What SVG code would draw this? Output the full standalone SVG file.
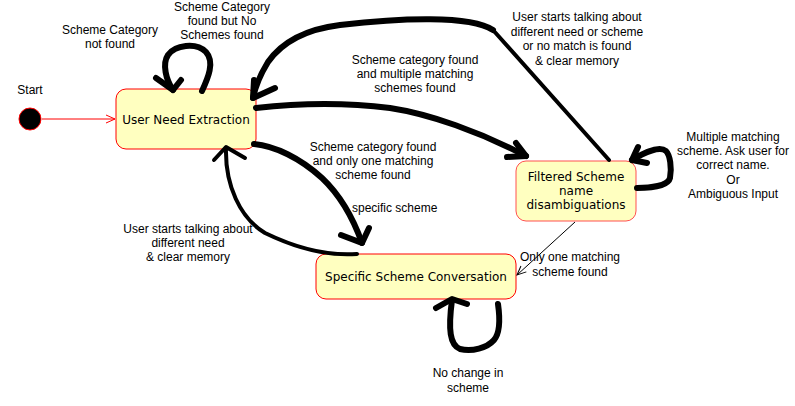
<svg xmlns="http://www.w3.org/2000/svg" width="795" height="406" viewBox="0 0 795 406">
<defs>
<marker id="open" markerWidth="12" markerHeight="12" refX="10" refY="5" orient="auto" markerUnits="userSpaceOnUse">
<path d="M1,1 L10,5 L1,9" fill="none" stroke="#ff0000" stroke-width="1"/>
</marker>
<marker id="openk" markerWidth="12" markerHeight="12" refX="10" refY="5" orient="auto" markerUnits="userSpaceOnUse">
<path d="M1,1 L10,5 L1,9" fill="none" stroke="#000" stroke-width="1"/>
</marker>
</defs>
<style>
.state{fill:#ffffc0;stroke:#ff0000;stroke-width:1}
.nt{font-family:"DejaVu Sans",Verdana,sans-serif;font-size:12px;fill:#000;text-anchor:middle}
.lb{font-family:"Liberation Sans",Arial,sans-serif;font-size:12px;fill:#000;text-anchor:middle}
.thick{fill:none;stroke:#000;stroke-width:6;stroke-linecap:round;stroke-linejoin:round}
.med{fill:none;stroke:#000;stroke-width:4;stroke-linecap:round;stroke-linejoin:round}
</style>
<rect width="795" height="406" fill="#fff"/>
<g id="start">
<circle cx="30" cy="119" r="11" fill="#000" stroke="#ff0000" stroke-width="1"/>
<text class="lb" x="30" y="94">Start</text>
</g>
<g id="user-need-extraction">
<rect class="state" x="116" y="89" width="140" height="60" rx="10"/>
<text class="nt" x="186" y="123.5">User Need Extraction</text>
</g>
<g id="filtered-scheme">
<rect class="state" x="516" y="161" width="120" height="60" rx="10" style="stroke:#ff5050"/>
<text class="nt" x="576" y="181">Filtered Scheme</text>
<text class="nt" x="576" y="195">name</text>
<text class="nt" x="576" y="209">disambiguations</text>
</g>
<g id="specific-scheme">
<rect class="state" x="316" y="254" width="200" height="45" rx="10"/>
<text class="nt" x="416" y="281">Specific Scheme Conversation</text>
</g>
<g id="connectors">
<line x1="42" y1="119" x2="115" y2="119" stroke="#ff0000" stroke-width="1" marker-end="url(#open)"/>
<!-- loop on user need -->
<path class="thick" d="M202,91 C208,78 215,62 206,52 C196,42 175,45 168,55 C162,64 166,80 173,90"/>
<path class="thick" d="M156,78 L173,90 L181,80"/>
<!-- back from filtered to user need -->
<path class="med" d="M609,160 L493,30"/>
<path class="thick" d="M493,30 C470,15 400,18 340,25 C300,30 280,45 268,62 C260,75 255,88 253,98"/>
<path class="thick" d="M254,80 L253,98 L275,88"/>
<!-- user need to filtered -->
<path class="thick" d="M256,108 C300,103 350,103 390,108 C430,114 480,132 526,156"/>
<path class="thick" d="M516,143 L526,156 L507,157"/>
<!-- filtered self loop -->
<path class="thick" d="M637,188 C650,188 668,186 670,178 C672,168 670,155 666,151 C660,146 645,152 632,160"/>
<path class="thick" d="M638,147 L632,160 L647,163"/>
<!-- filtered to specific -->
<line x1="575" y1="222" x2="517" y2="275" stroke="#000" stroke-width="1" marker-end="url(#openk)"/>
<!-- user need to specific -->
<path class="thick" d="M254,144 C275,146 300,158 322,178 C340,195 352,215 362,243"/>
<path class="thick" d="M341,235 L362,243 L369,228"/>
<!-- specific to user need -->
<path class="med" d="M357,254 C330,256 300,250 265,233 C240,218 225,185 226,148"/>
<path class="med" d="M214,160 L226,147 L245,158"/>
<!-- specific self loop -->
<path class="thick" d="M498,304 C500,318 500,333 494,340 C487,348 472,352 460,349 C450,345 448,330 452,300"/>
<path class="thick" d="M436,308 L452,299 L467,304"/>
</g>
<g id="labels">
<text class="lb" x="110" y="34">Scheme Category</text>
<text class="lb" x="110" y="48">not found</text>
<text class="lb" x="222" y="11">Scheme Category</text>
<text class="lb" x="222" y="25">found but No</text>
<text class="lb" x="222" y="39">Schemes found</text>
<text class="lb" x="415" y="64">Scheme category found</text>
<text class="lb" x="415" y="78">and multiple matching</text>
<text class="lb" x="415" y="92">schemes found</text>
<text class="lb" x="577" y="21">User starts talking about</text>
<text class="lb" x="577" y="36">different need or scheme</text>
<text class="lb" x="577" y="50">or no match is found</text>
<text class="lb" x="577" y="65">&amp; clear memory</text>
<text class="lb" x="733" y="141">Multiple matching</text>
<text class="lb" x="733" y="155">scheme. Ask user for</text>
<text class="lb" x="733" y="169">correct name.</text>
<text class="lb" x="733" y="184">Or</text>
<text class="lb" x="733" y="198">Ambiguous Input</text>
<text class="lb" x="570" y="261">Only one matching</text>
<text class="lb" x="570" y="276">scheme found</text>
<text class="lb" x="373" y="151">Scheme category found</text>
<text class="lb" x="373" y="165">and only one matching</text>
<text class="lb" x="373" y="179">scheme found</text>
<text class="lb" x="352" y="212" style="text-anchor:start">specific scheme</text>
<text class="lb" x="188" y="233">User starts talking about</text>
<text class="lb" x="188" y="247">different need</text>
<text class="lb" x="188" y="261">&amp; clear memory</text>
<text class="lb" x="468" y="377">No change in</text>
<text class="lb" x="468" y="392">scheme</text>
</g>
</svg>
